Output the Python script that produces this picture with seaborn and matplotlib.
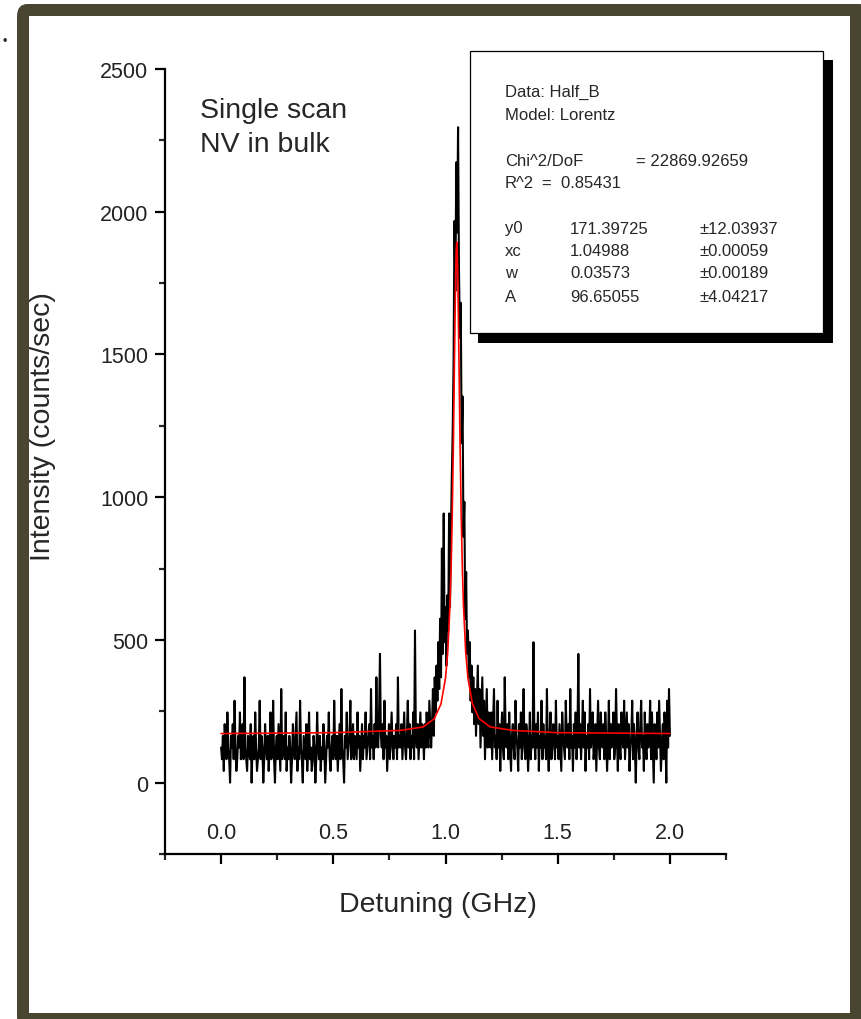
import numpy as np
import pandas as pd
import matplotlib
matplotlib.use("Agg")
import matplotlib.pyplot as plt
from matplotlib.patches import Rectangle, FancyBboxPatch
from matplotlib.ticker import MultipleLocator
import seaborn as sns

# photon counts per bin (1 count = 41 counts/sec)
bin_rate = 41
detuning_start, detuning_stop = 0.0, 2.0
counts = [
    3, 2, 4, 1, 5, 3, 2, 6, 3, 2, 0, 4, 3, 5, 2, 7, 3, 1, 2, 4, 3, 6, 2, 3, 5,
    2, 9, 3, 2, 1, 4, 3, 2, 5, 0, 3, 4, 2, 6, 3, 1, 2, 3, 7, 2, 4, 3, 0, 2, 5,
    3, 2, 4, 1, 3, 6, 2, 3, 7, 2, 0, 3, 4, 2, 5, 3, 1, 8, 2, 3, 4, 2, 6, 1, 3,
    2, 4, 3, 0, 2, 5, 3, 2, 4, 6, 1, 3, 2, 7, 3, 2, 0, 4, 3, 2, 5, 1, 3, 6, 2,
    3, 1, 2, 4, 3, 0, 2, 6, 3, 2, 4, 1, 3, 2, 5, 3, 0, 2, 4, 3, 6, 2, 1, 3, 4,
    2, 7, 3, 2, 4, 1, 3, 5, 2, 8, 3, 2, 0, 4, 3, 6, 2, 3, 4, 7, 2, 3, 5, 2, 4,
    3, 2, 6, 3, 4, 1, 3, 5, 2, 4, 3, 6, 2, 3, 4, 5, 2, 8, 3, 4, 2, 5, 3, 9, 4,
    3, 6, 11, 4, 3, 5, 2, 7, 3, 4, 1, 3, 5, 2, 4, 6, 3, 2, 4, 3, 5, 2, 9, 3, 4,
    3, 5, 2, 4, 6, 3, 2, 4, 7, 3, 5, 2, 4, 3, 6, 2, 13, 4, 3, 5, 2, 4, 6, 3, 5,
    4, 2, 5, 3, 6, 4, 3, 7, 5, 3, 5, 8, 4, 9, 6, 10, 7, 12, 8, 14, 9, 20, 11, 23, 12,
    15, 10, 16, 13, 23, 15, 21, 26, 30, 36, 48, 42, 53, 47, 56, 44, 38, 41, 29, 33, 21, 24, 14, 18, 11,
    13, 9, 12, 7, 10, 6, 9, 5, 8, 4, 7, 10, 5, 8, 3, 6, 9, 4, 7, 2, 5, 8, 3, 6, 4,
    3, 6, 2, 5, 8, 3, 4, 2, 7, 3, 5, 1, 4, 6, 3, 2, 9, 4, 3, 5, 2, 6, 3, 1, 4,
    5, 3, 2, 7, 4, 3, 1, 5, 3, 6, 2, 4, 8, 3, 2, 5, 4, 1, 3, 6, 2, 4, 3, 12, 4,
    2, 5, 3, 6, 1, 4, 3, 7, 2, 5, 3, 4, 2, 8, 3, 1, 4, 6, 2, 3, 5, 4, 2, 7, 3,
    4, 2, 5, 3, 1, 6, 4, 3, 2, 7, 4, 3, 5, 2, 8, 3, 4, 1, 5, 3, 6, 2, 4, 11, 3,
    5, 2, 4, 7, 3, 6, 1, 4, 3, 5, 2, 8, 3, 4, 6, 2, 3, 5, 1, 4, 7, 3, 2, 6, 4,
    3, 5, 2, 6, 4, 1, 3, 7, 2, 5, 3, 4, 6, 2, 3, 8, 4, 1, 5, 3, 2, 6, 4, 3, 7,
    2, 4, 6, 3, 5, 1, 3, 4, 7, 2, 5, 3, 0, 4, 6, 3, 2, 5, 7, 3, 4, 1, 6, 3, 2,
    5, 3, 4, 7, 2, 6, 3, 0, 5, 4, 2, 6, 3, 7, 4, 1, 3, 5, 2, 6, 4, 0, 7, 3, 8,
    4,
]

# Lorentz fit curve
fit_x = [0.0, 0.5, 0.8, 0.9, 0.95, 0.98, 1.0, 1.01, 1.02, 1.025, 1.03, 1.035,
         1.04, 1.045, 1.0475, 1.05, 1.0525, 1.055, 1.06, 1.065, 1.07, 1.075,
         1.08, 1.09, 1.1, 1.12, 1.15, 1.2, 1.3, 1.5, 2.0]
fit_y = [172, 175, 183, 195, 224, 276, 366, 457, 624, 753, 936, 1180,
         1481, 1768, 1860, 1893, 1860, 1768, 1481, 1180, 936, 753,
         624, 457, 366, 276, 224, 195, 183, 175, 172]

fit_text = ["Data: Half_B", "Model: Lorentz"]
param_names = ["y0", "xc", "w", "A"]
param_values = ["171.39725", "1.04988", "0.03573", "96.65055"]
param_errors = ["\u00b112.03937", "\u00b10.00059", "\u00b10.00189", "\u00b14.04217"]

detuning = np.linspace(detuning_start, detuning_stop, len(counts))
df = pd.DataFrame({"detuning": detuning, "intensity": np.array(counts) * bin_rate})
fit = pd.DataFrame({"detuning": fit_x, "intensity": fit_y})

sns.set_style("ticks")
plt.rcParams["font.family"] = ["Liberation Sans", "DejaVu Sans"]

W, H = 861, 1020
fig = plt.figure(figsize=(W / 100, H / 100), dpi=100)
fig.patch.set_facecolor("white")


def fx(px):
    return px / W


def fy(py):
    return 1 - py / H


# olive frame around the figure
fig.patches.append(FancyBboxPatch((fx(17), fy(1030)), fx(870) - fx(17), fy(5) - fy(1030),
                                  boxstyle="round,pad=0,rounding_size=0.012",
                                  transform=fig.transFigure, facecolor="#4a4530",
                                  edgecolor="none", zorder=-2))
fig.patches.append(Rectangle((fx(29), fy(1014)), fx(850) - fx(29), fy(17) - fy(1014),
                             transform=fig.transFigure, facecolor="white",
                             edgecolor="none", zorder=-1))
fig.text(fx(5), fy(48), "\u2022", fontsize=9, ha="center", va="bottom")

ax = fig.add_axes([fx(165), fy(855), fx(726) - fx(165), fy(70) - fy(855)])
ax.set_zorder(2)
ax.set_facecolor("none")

sns.lineplot(data=df, x="detuning", y="intensity", color="black", lw=1.5, ax=ax)
sns.lineplot(data=fit, x="detuning", y="intensity", color="red", lw=1.2, ax=ax)

ax.set_xlim(-0.25, 2.25)
ax.set_ylim(-250, 2500)
ax.xaxis.set_major_locator(MultipleLocator(0.5))
ax.xaxis.set_minor_locator(MultipleLocator(0.25))
ax.yaxis.set_major_locator(MultipleLocator(500))
ax.yaxis.set_minor_locator(MultipleLocator(250))
ax.set_yticks([0, 500, 1000, 1500, 2000, 2500])
ax.set_xticks([0.0, 0.5, 1.0, 1.5, 2.0])
ax.set_xticklabels(["0.0", "0.5", "1.0", "1.5", "2.0"])

for s in ["top", "right"]:
    ax.spines[s].set_visible(False)
for s in ["left", "bottom"]:
    ax.spines[s].set_linewidth(1.6)
    ax.spines[s].set_color("black")

ax.tick_params(axis="both", which="major", direction="out", length=7, width=1.6,
               labelsize=15.5, colors="black")
ax.tick_params(axis="both", which="minor", direction="out", length=4, width=1.6)
ax.tick_params(axis="y", which="major", pad=5)
ax.tick_params(axis="x", which="major", pad=-30)
for lab in ax.get_xticklabels() + ax.get_yticklabels():
    lab.set_color("#222222")

ax.set_xlabel("")
ax.set_ylabel("")
fig.text(fx(438), fy(905), "Detuning (GHz)", fontsize=20.5, ha="center", va="center")
fig.text(fx(43), fy(427), "Intensity (counts/sec)", fontsize=20.5, ha="center",
         va="center", rotation=90)

fig.text(fx(200), fy(111), "Single scan", fontsize=20.5, ha="left", va="center")
fig.text(fx(200), fy(145), "NV in bulk", fontsize=20.5, ha="left", va="center")

# fit result box with drop shadow
fig.patches.append(Rectangle((fx(478), fy(344)), fx(833) - fx(478), fy(61) - fy(344),
                             transform=fig.transFigure, facecolor="black",
                             edgecolor="none", zorder=5))
fig.patches.append(Rectangle((fx(470), fy(334)), fx(823) - fx(470), fy(52) - fy(334),
                             transform=fig.transFigure, facecolor="white",
                             edgecolor="black", lw=0.9, zorder=6))

box_fs = 12
fig.text(fx(505), fy(92), fit_text[0], fontsize=box_fs, va="center", zorder=7)
fig.text(fx(505), fy(116), fit_text[1], fontsize=box_fs, va="center", zorder=7)
fig.text(fx(505), fy(162), "Chi^2/DoF", fontsize=box_fs, va="center", zorder=7)
fig.text(fx(636), fy(162), "= 22869.92659", fontsize=box_fs, va="center", zorder=7)
fig.text(fx(505), fy(184), "R^2", fontsize=box_fs, va="center", zorder=7)
fig.text(fx(542), fy(184), "=  0.85431", fontsize=box_fs, va="center", zorder=7)
row_y = [229, 252, 274, 297]
for name, val, err, py in zip(param_names, param_values, param_errors, row_y):
    fig.text(fx(505), fy(py), name, fontsize=box_fs, va="center", zorder=7)
    fig.text(fx(570), fy(py), val, fontsize=box_fs, va="center", zorder=7)
    fig.text(fx(700), fy(py), err, fontsize=box_fs, va="center", zorder=7)

fig.savefig("out.png", dpi=100)
